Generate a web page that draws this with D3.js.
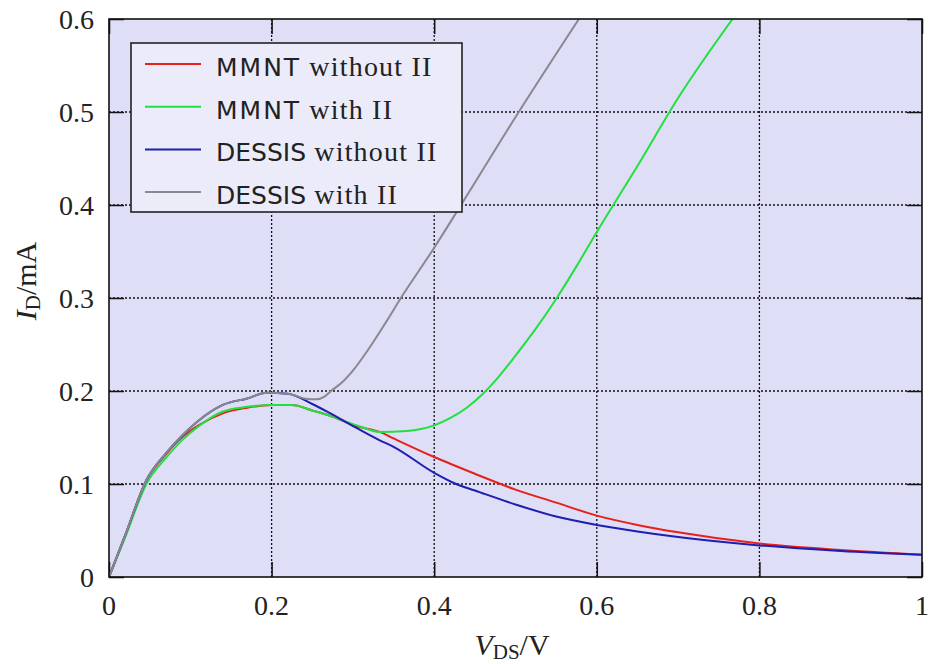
<!DOCTYPE html>
<html>
<head>
<meta charset="utf-8">
<script src="https://d3js.org/d3.v7.min.js"></script>
<style>
  body { margin: 0; background: #fff; }
  svg { display: block; }
  .tick-label { font-family: "Liberation Serif", "DejaVu Serif", serif; font-size: 28px; fill: #222; }
  .leg { font-size: 25px; fill: #222; }
</style>
</head>
<body>
<svg id="chart" width="929" height="664"></svg>
<script>
// V_DS in volts, I_D in mA
var mmntNoII_v = [0, 0.02, 0.046, 0.07, 0.091, 0.11, 0.14, 0.17, 0.2, 0.225, 0.25, 0.27, 0.305, 0.333, 0.35, 0.4, 0.45, 0.5, 0.55, 0.6, 0.65, 0.7, 0.8, 0.9, 1.0];
var mmntNoII_i = [0, 0.045, 0.104, 0.132, 0.151, 0.163, 0.176, 0.182, 0.185, 0.185, 0.179, 0.174, 0.162, 0.156, 0.149, 0.129, 0.111, 0.094, 0.080, 0.066, 0.056, 0.048, 0.036, 0.029, 0.024];

var mmntII_v = [0, 0.02, 0.046, 0.07, 0.091, 0.11, 0.14, 0.17, 0.2, 0.225, 0.25, 0.27, 0.305, 0.333, 0.366, 0.4, 0.42, 0.44, 0.46, 0.48, 0.5, 0.525, 0.55, 0.575, 0.6, 0.65, 0.7, 0.767];
var mmntII_i = [0, 0.043, 0.100, 0.128, 0.148, 0.162, 0.178, 0.183, 0.185, 0.185, 0.179, 0.174, 0.163, 0.156, 0.157, 0.163, 0.171, 0.182, 0.197, 0.216, 0.238, 0.267, 0.299, 0.334, 0.371, 0.442, 0.515, 0.600];

var dessisNoII_v = [0, 0.02, 0.046, 0.07, 0.091, 0.11, 0.14, 0.17, 0.194, 0.22, 0.25, 0.27, 0.305, 0.333, 0.35, 0.4, 0.427, 0.45, 0.5, 0.55, 0.6, 0.65, 0.7, 0.8, 0.9, 1.0];
var dessisNoII_i = [0, 0.045, 0.104, 0.133, 0.153, 0.168, 0.185, 0.192, 0.198, 0.197, 0.186, 0.177, 0.160, 0.147, 0.140, 0.112, 0.100, 0.093, 0.078, 0.065, 0.056, 0.049, 0.043, 0.034, 0.028, 0.024];

var dessisII_v = [0, 0.02, 0.046, 0.07, 0.091, 0.11, 0.14, 0.17, 0.194, 0.22, 0.24, 0.255, 0.265, 0.273, 0.285, 0.3, 0.32, 0.34, 0.359, 0.4, 0.433, 0.504, 0.578];
var dessisII_i = [0, 0.045, 0.104, 0.133, 0.153, 0.168, 0.185, 0.192, 0.198, 0.197, 0.192, 0.191, 0.194, 0.2, 0.208, 0.222, 0.246, 0.273, 0.300, 0.354, 0.400, 0.500, 0.600];

var seriesNames = ["MMNT without II", "MMNT with II", "DESSIS without II", "DESSIS with II"];
var seriesColors = ["#e8201c", "#22e040", "#1e1eb0", "#888890"];
var xTicks = [0, 0.2, 0.4, 0.6, 0.8, 1];
var yTicks = [0, 0.1, 0.2, 0.3, 0.4, 0.5, 0.6];

var series = [
  d3.zip(mmntNoII_v, mmntNoII_i),
  d3.zip(mmntII_v, mmntII_i),
  d3.zip(dessisNoII_v, dessisNoII_i),
  d3.zip(dessisII_v, dessisII_i)
];

// plot box (window.top is taken, so p-prefixed)
var pLeft = 109, pRight = 922, pTop = 19, pBottom = 577;

var svg = d3.select("#chart");

var x = d3.scaleLinear().domain([0, 1]).range([pLeft, pRight]);
var y = d3.scaleLinear().domain([0, 0.6]).range([pBottom, pTop]);

svg.append("rect")
  .attr("x", pLeft).attr("y", pTop)
  .attr("width", pRight - pLeft).attr("height", pBottom - pTop)
  .attr("fill", "#dedef6");

svg.append("defs").append("clipPath").attr("id", "clip")
  .append("rect")
  .attr("x", pLeft).attr("y", pTop)
  .attr("width", pRight - pLeft).attr("height", pBottom - pTop);

// dotted grid
var grid = svg.append("g").attr("stroke", "#111").attr("stroke-width", 1.3).attr("stroke-dasharray", "2,2");
grid.selectAll("line.gx").data(xTicks.slice(1, -1)).enter().append("line")
  .attr("x1", function(d) { return x(d); }).attr("x2", function(d) { return x(d); })
  .attr("y1", pTop).attr("y2", pBottom);
grid.selectAll("line.gy").data(yTicks.slice(1, -1)).enter().append("line")
  .attr("y1", function(d) { return y(d); }).attr("y2", function(d) { return y(d); })
  .attr("x1", pLeft).attr("x2", pRight);

// inward ticks on all sides, via the axes
var tl = 15;
svg.append("g").attr("transform", "translate(0," + pBottom + ")")
  .call(d3.axisTop(x).tickValues(xTicks).tickSize(tl).tickFormat(""));
svg.append("g").attr("transform", "translate(0," + pTop + ")")
  .call(d3.axisBottom(x).tickValues(xTicks).tickSize(tl).tickFormat(""));
svg.append("g").attr("transform", "translate(" + pLeft + ",0)")
  .call(d3.axisRight(y).tickValues(yTicks).tickSize(tl).tickFormat(""));
svg.append("g").attr("transform", "translate(" + pRight + ",0)")
  .call(d3.axisLeft(y).tickValues(yTicks).tickSize(tl).tickFormat(""));
svg.selectAll(".domain").remove();
svg.selectAll(".tick line").attr("stroke", "#111").attr("stroke-width", 1.5);

// tick labels
svg.append("g").selectAll("text").data(xTicks).enter().append("text")
  .attr("class", "tick-label")
  .attr("x", function(d) { return x(d); })
  .attr("y", pBottom + 38)
  .attr("text-anchor", "middle")
  .text(function(d) { return d3.format("")(d); });
svg.append("g").selectAll("text").data(yTicks).enter().append("text")
  .attr("class", "tick-label")
  .attr("x", pLeft - 15)
  .attr("y", function(d) { return y(d) + 10; })
  .attr("text-anchor", "end")
  .text(function(d) { return d3.format("")(d); });

// curves
var line = d3.line()
  .x(function(d) { return x(d[0]); })
  .y(function(d) { return y(d[1]); })
  .curve(d3.curveMonotoneX);

svg.append("g").attr("clip-path", "url(#clip)")
  .selectAll("path").data(series).enter().append("path")
  .attr("d", line)
  .attr("fill", "none")
  .attr("stroke", function(d, i) { return seriesColors[i]; })
  .attr("stroke-width", 2);

// frame
svg.append("rect")
  .attr("x", pLeft).attr("y", pTop)
  .attr("width", pRight - pLeft).attr("height", pBottom - pTop)
  .attr("fill", "none").attr("stroke", "#111").attr("stroke-width", 1.6);

// legend
var lg = svg.append("g");
lg.append("rect")
  .attr("x", 131).attr("y", 43).attr("width", 331).attr("height", 169)
  .attr("fill", "#ebebf9").attr("stroke", "#222").attr("stroke-width", 1.6);
var ent = lg.selectAll("g.ent").data(seriesNames).enter().append("g")
  .attr("transform", function(d, i) { return "translate(0," + (64 + i * 42.7) + ")"; });
ent.append("line")
  .attr("x1", 145).attr("x2", 201).attr("y1", 0).attr("y2", 0)
  .attr("stroke", function(d, i) { return seriesColors[i]; })
  .attr("stroke-width", 2);
var lt = ent.append("text").attr("class", "leg").attr("x", 216).attr("y", 12);
lt.append("tspan")
  .attr("font-family", "'DejaVu Sans', sans-serif")
  .attr("letter-spacing", function(d) { return d.indexOf("MMNT") === 0 ? 2 : 0; })
  .text(function(d) { return d.split(" ")[0]; });
lt.append("tspan")
  .attr("font-family", "'Liberation Serif', serif")
  .attr("font-size", 28)
  .attr("letter-spacing", 1.2)
  .text(function(d) { return "\u00a0" + d.split(" ").slice(1).join(" "); });

// axis titles
var xt = svg.append("text")
  .attr("x", 512).attr("y", 655)
  .attr("text-anchor", "middle")
  .attr("font-family", "'Liberation Serif', serif")
  .attr("font-size", 30).attr("fill", "#222");
xt.append("tspan").attr("font-style", "italic").text("V");
xt.append("tspan").attr("font-size", 21).attr("dy", 4).text("DS");
xt.append("tspan").attr("dy", -4).text("/V");

var yt = svg.append("text")
  .attr("transform", "translate(36,281) rotate(-90)")
  .attr("text-anchor", "middle")
  .attr("font-family", "'Liberation Serif', serif")
  .attr("font-size", 30).attr("fill", "#222");
yt.append("tspan").attr("font-style", "italic").text("I");
yt.append("tspan").attr("font-size", 21).attr("dy", 4).text("D");
yt.append("tspan").attr("dy", -4).text("/mA");
</script>
</body>
</html>
